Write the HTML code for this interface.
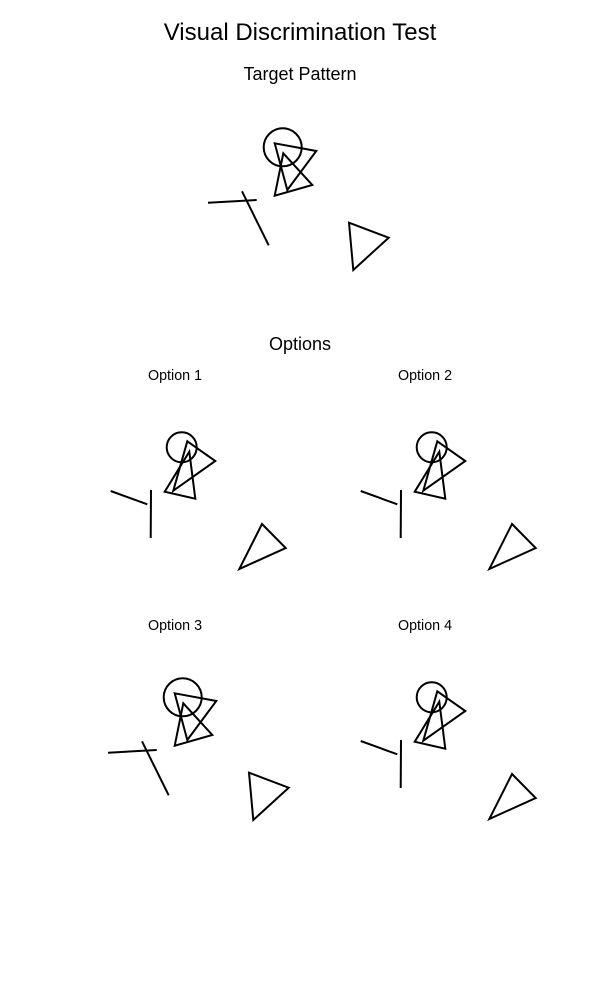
<!DOCTYPE html>
<html><head><meta charset="utf-8"><style>
html,body{margin:0;padding:0;background:#fff;}
svg{display:block;font-family:"Liberation Sans",sans-serif;}
</style></head><body>
<svg id="s" width="600" height="1000" viewBox="0 0 600 1000">
<text x="300" y="40" text-anchor="middle" font-size="24">Visual Discrimination Test</text>
<text x="300" y="80" text-anchor="middle" font-size="18">Target Pattern</text>
<text x="300" y="350" text-anchor="middle" font-size="18">Options</text>
<text x="175" y="380" text-anchor="middle" font-size="14.3">Option 1</text>
<text x="425" y="380" text-anchor="middle" font-size="14.3">Option 2</text>
<text x="175" y="630" text-anchor="middle" font-size="14.3">Option 3</text>
<text x="425" y="630" text-anchor="middle" font-size="14.3">Option 4</text>
</svg>
<script>
// Pattern definitions (shape coordinates in pattern space)
const targetCircle = [282.7, 147.3, 19];
const targetTriA = [[274.7,143.3],[316.3,151],[287.3,190]];
const targetTriB = [[283.3,153.3],[312.3,185],[274.7,195.7]];
const targetLine1 = [[208,202.7],[256.7,200]];
const targetLine2 = [[242,191.3],[268.7,245.3]];
const targetTriC = [[349,222.7],[388.7,237.7],[353.3,270]];

const distCircle = [181.7, 447.3, 15];
const distTriA = [[187.3,441.3],[215.3,461],[173.3,490.7]];
const distTriB = [[189.3,451.7],[195.3,498.7],[164.7,491.7]];
const distLine1 = [[110.7,491],[147.3,504.3]];
const distLine2 = [[151,490],[150.7,538]];
const distTriC = [[262,524],[285.7,548],[239.3,569]];

const panelNames = ['target','option-1','option-2','option-3','option-4'];
const panelPattern = ['T','D','D','T','D'];
const panelDx = [0,0,250,-100,250];
const panelDy = [0,0,0,550,250];

const NS='http://www.w3.org/2000/svg';
const svg=document.getElementById('s');
function mk(tag,attrs){const e=document.createElementNS(NS,tag);for(const k in attrs)e.setAttribute(k,attrs[k]);e.setAttribute('fill','none');e.setAttribute('stroke','#000');e.setAttribute('stroke-width','2');svg.appendChild(e);return e;}
function pts(a,dx,dy){return a.map(p=>(p[0]+dx)+','+(p[1]+dy)).join(' ');}
panelNames.forEach((n,i)=>{
  const T=panelPattern[i]==='T';
  const dx=panelDx[i],dy=panelDy[i];
  const c=T?targetCircle:distCircle;
  const ce=mk('circle',{cx:c[0]+dx,cy:c[1]+dy,r:c[2]});
  
  
  [['tri-a',T?targetTriA:distTriA],['tri-b',T?targetTriB:distTriB],['tri-c',T?targetTriC:distTriC]].forEach(t=>{
    const e=mk('polygon',{points:pts(t[1],dx,dy)});
    
    
  });
  [['line-1',T?targetLine1:distLine1],['line-2',T?targetLine2:distLine2]].forEach(l=>{
    const e=mk('polyline',{points:pts(l[1],dx,dy)});
    
    
  });
});
</script>
</body></html>
